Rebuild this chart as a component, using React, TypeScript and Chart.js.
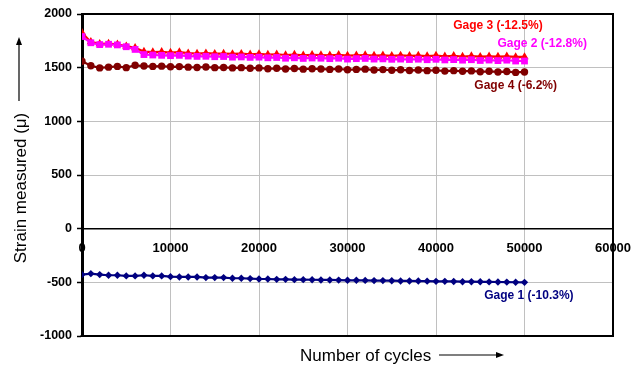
import React, { useEffect, useRef } from "react";
import { Chart, registerables } from "chart.js";

Chart.register(...registerables);

const cycles = [
  0, 1000, 2000, 3000, 4000, 5000, 6000, 7000, 8000, 9000,
  10000, 11000, 12000, 13000, 14000, 15000, 16000, 17000, 18000, 19000,
  20000, 21000, 22000, 23000, 24000, 25000, 26000, 27000, 28000, 29000,
  30000, 31000, 32000, 33000, 34000, 35000, 36000, 37000, 38000, 39000,
  40000, 41000, 42000, 43000, 44000, 45000, 46000, 47000, 48000, 49000,
  50000,
];

const gage3 = [
  1825, 1740, 1722, 1725, 1718, 1700, 1685, 1650, 1645, 1648,
  1640, 1645, 1635, 1632, 1635, 1630, 1632, 1628, 1630, 1625,
  1628, 1622, 1625, 1618, 1622, 1615, 1620, 1618, 1615, 1620,
  1612, 1615, 1618, 1612, 1615, 1610, 1614, 1610, 1612, 1608,
  1612, 1606, 1610, 1604, 1608, 1602, 1606, 1603, 1606, 1600,
  1600,
];

const gage2 = [
  1790, 1732, 1715, 1718, 1712, 1695, 1670, 1622, 1618, 1615,
  1612, 1615, 1608, 1605, 1606, 1602, 1604, 1598, 1600, 1596,
  1598, 1592, 1595, 1588, 1592, 1586, 1590, 1588, 1584, 1588,
  1580, 1584, 1586, 1580, 1582, 1578, 1580, 1576, 1579, 1574,
  1578, 1572, 1575, 1570, 1574, 1567, 1571, 1566, 1570, 1562,
  1562,
];

const gage4 = [
  1560, 1518, 1498, 1505, 1512, 1500, 1522, 1515, 1512, 1514,
  1508, 1510, 1505, 1502, 1506, 1500, 1502, 1498, 1500, 1494,
  1498, 1490, 1494, 1488, 1492, 1486, 1490, 1487, 1484, 1488,
  1480, 1484, 1486, 1478, 1482, 1476, 1480, 1474, 1478, 1472,
  1476, 1468, 1472, 1466, 1470, 1462, 1466, 1460, 1464, 1456,
  1460,
];

const gage1 = [
  -428, -419, -428, -434, -434, -440, -440, -434, -440, -440,
  -447, -450, -450, -450, -456, -456, -456, -462, -462, -465,
  -469, -469, -472, -472, -475, -475, -476, -478, -478, -479,
  -481, -481, -482, -484, -484, -485, -487, -487, -488, -489,
  -491, -491, -492, -494, -494, -495, -496, -497, -498, -499,
  -500,
];

const seriesNames = ["Gage 3", "Gage 2", "Gage 4", "Gage 1"];
const seriesColors = ["#ff0000", "#ff00ff", "#800000", "#000080"];
const seriesMarkers = ["triangle", "rect", "circle", "rectRot"];
const seriesRadius = [4.8, 4.8, 3.7, 3.7];

const gageLabels = ["Gage 3 (-12.5%)", "Gage 2 (-12.8%)", "Gage 4 (-6.2%)", "Gage 1 (-10.3%)"];
const gageLabelX = [47000, 52000, 49000, 50500];
const gageLabelY = [1891, 1727, 1329, -621];

const xTitle = "Number of cycles";
const yTitle = "Strain measured (\u03bc)";

const xMin = 0;
const xMax = 60000;
const xStep = 10000;
const yMin = -1000;
const yMax = 2000;
const yStep = 500;

function arrowHead(ctx: CanvasRenderingContext2D, x: number, y: number, dir: "up" | "right") {
  ctx.beginPath();
  if (dir === "up") {
    ctx.moveTo(x, y);
    ctx.lineTo(x - 3, y + 8);
    ctx.lineTo(x + 3, y + 8);
  } else {
    ctx.moveTo(x, y);
    ctx.lineTo(x - 8, y - 3);
    ctx.lineTo(x - 8, y + 3);
  }
  ctx.closePath();
  ctx.fill();
}

const decorPlugin = {
  id: "decor",
  beforeDatasetsDraw(chart: any) {
    const { ctx, chartArea: a } = chart;
    ctx.save();
    ctx.strokeStyle = "#000";
    ctx.lineWidth = 2;
    ctx.beginPath();
    ctx.moveTo(a.left, a.top);
    ctx.lineTo(a.right, a.top);
    ctx.lineTo(a.right, a.bottom);
    ctx.lineTo(a.left - 1.5, a.bottom);
    ctx.stroke();
    ctx.restore();
  },
  afterDraw(chart: any) {
    const { ctx } = chart;
    const xs = chart.scales.x;
    const ys = chart.scales.y;
    ctx.save();
    ctx.font = "bold 12px Arial, 'Liberation Sans', sans-serif";
    ctx.textAlign = "center";
    ctx.textBaseline = "middle";
    gageLabels.forEach((t, i) => {
      ctx.fillStyle = seriesColors[i];
      ctx.fillText(t, xs.getPixelForValue(gageLabelX[i]), ys.getPixelForValue(gageLabelY[i]));
    });

    ctx.fillStyle = "#000";
    ctx.strokeStyle = "#000";
    ctx.lineWidth = 1.2;
    ctx.font = "17px Arial, 'Liberation Sans', sans-serif";
    ctx.textAlign = "left";
    ctx.textBaseline = "middle";
    ctx.fillText(xTitle, 300, 356);
    ctx.beginPath();
    ctx.moveTo(439, 355);
    ctx.lineTo(498, 355);
    ctx.stroke();
    arrowHead(ctx, 504, 355, "right");

    ctx.save();
    ctx.translate(21, 188);
    ctx.rotate(-Math.PI / 2);
    ctx.textAlign = "center";
    ctx.textBaseline = "middle";
    ctx.fillText(yTitle, 0, 0);
    ctx.restore();
    ctx.beginPath();
    ctx.moveTo(19, 101);
    ctx.lineTo(19, 44);
    ctx.stroke();
    arrowHead(ctx, 19, 37, "up");
    ctx.restore();
  },
};

const plainNumber = (v: any) => String(v);

export default function App() {
  const ref = useRef<HTMLCanvasElement>(null);

  useEffect(() => {
    if (!ref.current) return;
    const seriesData = [gage3, gage2, gage4, gage1];
    const datasets = seriesData.map((vals, i) => ({
      label: seriesNames[i],
      data: cycles.map((c, j) => ({ x: c, y: vals[j] })),
      borderColor: seriesColors[i],
      backgroundColor: seriesColors[i],
      pointBackgroundColor: seriesColors[i],
      pointBorderColor: seriesColors[i],
      pointStyle: seriesMarkers[i],
      pointRadius: seriesRadius[i],
      pointBorderWidth: 0,
      borderWidth: 2.2,
      showLine: true,
      tension: 0,
      order: i === 0 ? 1 : i === 1 ? 0 : i + 1,
    }));

    const chart = new Chart(ref.current, {
      type: "scatter",
      data: { datasets },
      plugins: [decorPlugin],
      options: {
        responsive: false,
        animation: false,
        events: [],
        layout: { padding: { left: 0, top: 14, right: 21, bottom: 32 } },
        plugins: {
          legend: { display: false },
          tooltip: { enabled: false },
        },
        scales: {
          x: {
            type: "linear",
            position: { y: 0 },
            min: xMin,
            max: xMax,
            afterFit: (s: any) => {
              s.paddingLeft = 0;
              s.paddingRight = 0;
            },
            ticks: {
              stepSize: xStep,
              color: "#000",
              font: { family: "Arial, 'Liberation Sans', sans-serif", size: 13, weight: "bold" },
              padding: 12,
              maxRotation: 0,
              callback: plainNumber,
            },
            grid: {
              color: "#c0c0c0",
              lineWidth: 1,
              drawTicks: false,
            },
            border: { color: "#000", width: 1.5 },
          },
          y: {
            type: "linear",
            min: yMin,
            max: yMax,
            afterFit: (s: any) => {
              s.width = 82;
            },
            ticks: {
              stepSize: yStep,
              color: "#000",
              font: { family: "Arial, 'Liberation Sans', sans-serif", size: 12.5, weight: "bold" },
              padding: 5,
              callback: plainNumber,
            },
            grid: {
              color: "#c0c0c0",
              lineWidth: 1,
              tickColor: "#000",
              tickLength: 5,
              tickWidth: 1.5,
            },
            border: { color: "#000", width: 3 },
          },
        },
      },
    } as any);
    return () => chart.destroy();
  }, []);

  return (
    <div style={{ position: "fixed", left: 0, top: 0, width: 634, height: 368, background: "#fff" }}>
      <canvas ref={ref} width={634} height={368} style={{ display: "block" }} />
    </div>
  );
}
